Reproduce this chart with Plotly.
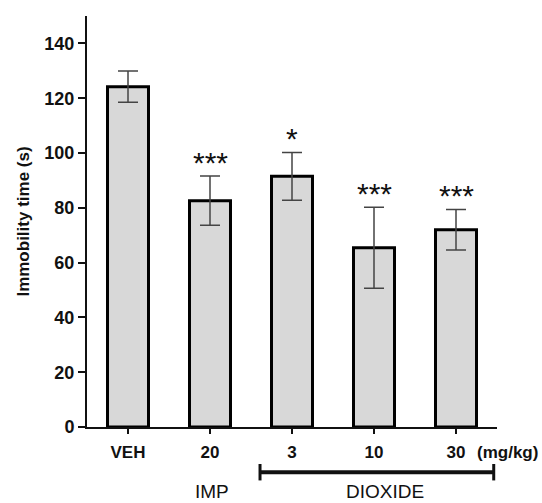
import plotly.graph_objects as go

categories = ["VEH", "20", "3", "10", "30"]
means = [124.2, 82.6, 91.5, 65.4, 72.0]
errors = [5.7, 9.0, 8.7, 14.8, 7.4]
significance = ["", "***", "*", "***", "***"]
y_ticks = [0, 20, 40, 60, 80, 100, 120, 140]

x_idx = list(range(len(categories)))

fig = go.Figure()
fig.add_trace(go.Bar(
    x=x_idx, y=means, width=0.5,
    marker=dict(color="#d8d8d8", line=dict(color="black", width=3)),
    error_y=dict(type="data", array=errors, visible=True, color="#444444",
                 thickness=1.5, width=10),
    showlegend=False, hoverinfo="skip",
))

for i, s in enumerate(significance):
    if s:
        fig.add_annotation(x=x_idx[i], y=means[i] + errors[i], text=s,
                           showarrow=False, yanchor="bottom", yshift=-5,
                           font=dict(family="Arial, Liberation Sans", size=30, color="#111"))

font = dict(family="Arial, Liberation Sans", color="#111")

fig.add_annotation(x=1.105, xref="paper", y=-0.063, yref="paper", text="<b>(mg/kg)</b>",
                   showarrow=False, xanchor="right", yanchor="middle", font=dict(size=17, **font))
fig.add_annotation(x=1.03, xref="x", y=-0.156, yref="paper", text="IMP",
                   showarrow=False, yanchor="middle", font=dict(size=19, **font))
fig.add_annotation(x=3.13, xref="x", y=-0.156, yref="paper", text="DIOXIDE",
                   showarrow=False, yanchor="middle", font=dict(size=19, **font))

# bracket for DIOXIDE group
bx0, bx1, by = 1.61, 4.46, -0.11
fig.add_shape(type="line", xref="x", yref="paper", x0=bx0, x1=bx1, y0=by, y1=by,
              line=dict(color="#111", width=4))
for bx in (bx0, bx1):
    fig.add_shape(type="line", xref="x", yref="paper", x0=bx, x1=bx, y0=by - 0.02, y1=by + 0.02,
                  line=dict(color="#111", width=3))

fig.update_layout(
    width=542, height=503,
    margin=dict(l=87, r=45, t=16, b=76),
    plot_bgcolor="white", paper_bgcolor="white",
    bargap=0.5,
    font=font,
)
fig.update_xaxes(
    range=[-0.5, 4.5], tickmode="array", tickvals=x_idx,
    ticktext=["<b>%s</b>" % c for c in categories],
    tickfont=dict(size=17, **font), ticklabelstandoff=4,
    showline=True, linecolor="#111", linewidth=2,
    ticks="outside", ticklen=5, tickwidth=2, tickcolor="#111",
    showgrid=False, zeroline=False, fixedrange=True,
)
fig.update_yaxes(
    range=[0, 150], tickmode="array", tickvals=y_ticks,
    ticktext=["<b>%d</b>" % v for v in y_ticks],
    tickfont=dict(size=18, **font),
    showline=True, linecolor="#111", linewidth=2,
    ticks="outside", ticklen=7, tickwidth=2, tickcolor="#111",
    showgrid=False, zeroline=False, fixedrange=True,
    title=dict(text="<b>Immobility time (s)</b>", font=dict(size=17, **font), standoff=10),
)

fig.write_html("out.html", config={"displayModeBar": False},
               post_script="document.body.style.margin='0';document.body.style.overflow='hidden';")
